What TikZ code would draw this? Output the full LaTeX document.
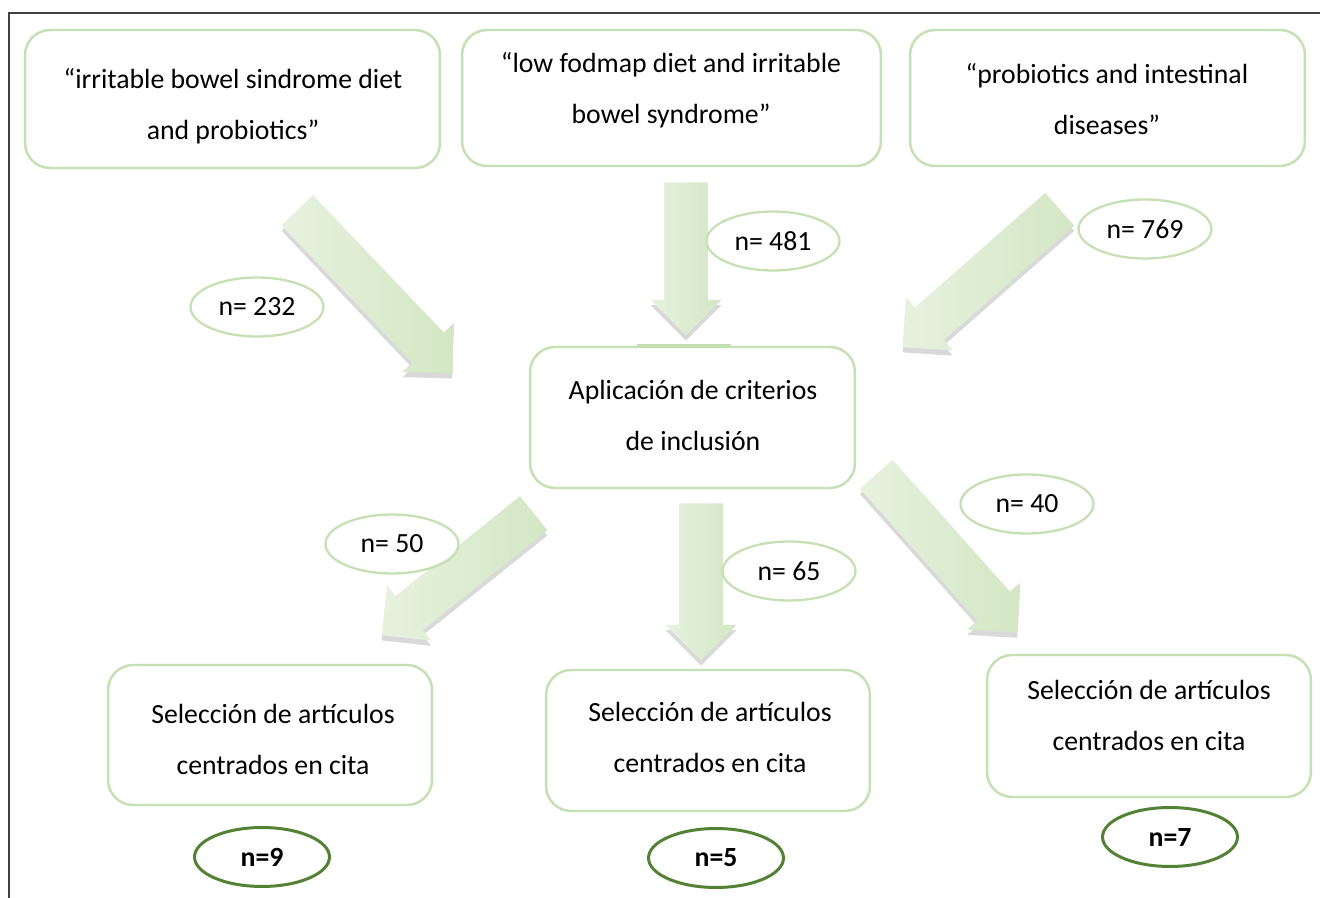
\documentclass[tikz,border=0pt]{standalone}
\usepackage{amsmath, amssymb, amsfonts, tikz}
\usepackage{fontspec}
\setmainfont{Carlito}
\usetikzlibrary{calc,shapes.arrows,shapes.geometric,shadows}
\definecolor{boxgreen}{HTML}{C5E0B3}
\definecolor{darkgreen}{HTML}{538135}
\definecolor{arrowgreen}{HTML}{D3E7C4}
\definecolor{framegray}{HTML}{404040}

\begin{document}
\begin{tikzpicture}[x=0.02cm, y=-0.02cm,
    every node/.style={font=\fontsize{15.8}{29}\selectfont},
    box/.style={draw=boxgreen, line width=1.4pt, rounded corners=0.5cm, fill=white},
    boxtext/.style={align=center, inner sep=0pt},
    count/.style={ellipse, draw=boxgreen, line width=1.3pt, fill=white,
      minimum width=2.66cm, minimum height=1.18cm, inner sep=0pt},
    total/.style={ellipse, draw=darkgreen, line width=1.7pt, fill=white,
      minimum width=2.7cm, minimum height=1.18cm, inner sep=0pt,
      font=\fontsize{15.8}{29}\selectfont\bfseries},
    bigarrow/.style={single arrow, single arrow head extend=0.27cm,
      single arrow tip angle=90, inner xsep=0pt, inner ysep=0.43cm, anchor=tail,
      left color=arrowgreen!55!white, right color=arrowgreen,
      drop shadow={shadow xshift=0pt, shadow yshift=-3pt, opacity=0.3}}]
    \useasboundingbox (0,0) rectangle (1320,898);

    % search arrows, placed by their tails, drawn first so the boxes sit on top
    \node[bigarrow, minimum height=4.5cm,  rotate=-46.4]  (ArrOne)   at (297,210)  {};
    \node[bigarrow, minimum height=3.06cm, rotate=-90]    (ArrTwo)   at (686,182)  {};
    \node[bigarrow, minimum height=4.18cm, rotate=-138.7] (ArrThree) at (1060,209) {};
    \node[bigarrow, minimum height=3.9cm,  rotate=-141.3] (ArrFour)  at (534,513)  {};
    \node[bigarrow, minimum height=3.14cm, rotate=-90]    (ArrFive)  at (701,503)  {};
    \node[bigarrow, minimum height=4.24cm, rotate=-48.3]  (ArrSix)   at (876,474)  {};

    % search strings
    \node[box, minimum width=8.3cm,  minimum height=2.76cm] (QOne)   at (232.5,99)  {};
    \node[box, minimum width=8.38cm, minimum height=2.72cm] (QTwo)   at (671.5,98)  {};
    \node[box, minimum width=7.9cm,  minimum height=2.72cm] (QThree) at (1107.5,98) {};
    \node[boxtext] (QOneText)   at (233,106)  {“irritable bowel sindrome diet\\and probiotics”};
    \node[boxtext] (QTwoText)   at (671,90)   {“low fodmap diet and irritable\\bowel syndrome”};
    \node[boxtext] (QThreeText) at (1107,99)  {“probiotics and intestinal\\diseases”};

    % inclusion criteria
    \node[box, minimum width=6.5cm, minimum height=2.82cm] (Crit) at (692.5,417.5) {};
    \draw[boxgreen, line width=2pt] ($(Crit.north)+(-56,0)$) -- ($(Crit.north)+(38,0)$);
    \node[boxtext] (CritText) at (693,415) {Aplicación de criterios\\de inclusión};

    % selected articles
    \node[box, minimum width=6.48cm, minimum height=2.8cm]  (SelOne)   at (270,735)    {};
    \node[box, minimum width=6.48cm, minimum height=2.82cm] (SelTwo)   at (708,740.5)  {};
    \node[box, minimum width=6.48cm, minimum height=2.84cm] (SelThree) at (1149,726)   {};
    \node[boxtext] (SelOneText)   at (273,739)  {Selección de artículos\\centrados en cita};
    \node[boxtext] (SelTwoText)   at (710,737)  {Selección de artículos\\centrados en cita};
    \node[boxtext] (SelThreeText) at (1149,715) {Selección de artículos\\centrados en cita};

    % counts along the arrows
    \node[count] (NOne)   at (257,307)  {n= 232};
    \node[count] (NTwo)   at (773,241)  {n= 481};
    \node[count] (NThree) at (1145,229) {n= 769};
    \node[count] (NFour)  at (392,544)  {n= 50};
    \node[count] (NFive)  at (789,571)  {n= 65};
    \node[count] (NSix)   at (1027,504) {n= 40};

    % final totals
    \node[total] (TotOne)   at (262,857)  {n=9};
    \node[total] (TotTwo)   at (716,858)  {n=5};
    \node[total] (TotThree) at (1170,837) {n=7};

    % page frame, top and left only
    \coordinate (FrameBL) at (9,898);
    \coordinate (FrameTL) at (9,13);
    \coordinate (FrameTR) at (1320,13);
    \draw[framegray, line width=0.9pt] (FrameBL) -- (FrameTL) -- (FrameTR);
\end{tikzpicture}
\end{document}
